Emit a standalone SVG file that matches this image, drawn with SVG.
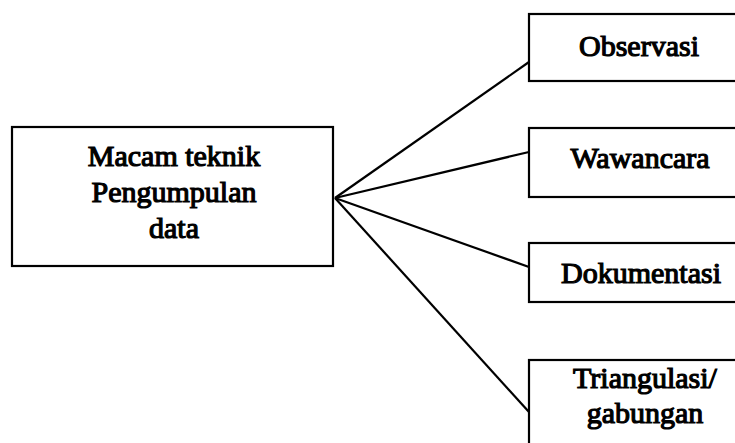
<svg xmlns="http://www.w3.org/2000/svg" width="735" height="443" viewBox="0 0 735 443">
<style>
.box{fill:#fff;stroke:#000;stroke-width:2.2}
.t{font-family:"Liberation Serif","Times New Roman",serif;font-size:30px;fill:#000;stroke:#000;stroke-width:1.2;text-anchor:middle}
.c{stroke:#000;stroke-width:2.2;fill:none}
</style>
<rect width="735" height="443" fill="#fff"/>
<g id="connectors">
<line class="c" x1="335" y1="198" x2="529" y2="62"/>
<line class="c" x1="335" y1="198" x2="529" y2="152"/>
<line class="c" x1="335" y1="198" x2="529" y2="267"/>
<line class="c" x1="335" y1="198" x2="529" y2="412"/>
</g>
<g id="main">
<rect class="box" x="12" y="127" width="321" height="139"/>
<text class="t" x="174" y="166">Macam teknik</text>
<text class="t" x="174" y="202">Pengumpulan</text>
<text class="t" x="174" y="238">data</text>
</g>
<g id="observasi">
<rect class="box" x="529" y="14" width="230" height="67"/>
<text class="t" x="639" y="56">Observasi</text>
</g>
<g id="wawancara">
<rect class="box" x="529" y="128" width="230" height="69"/>
<text class="t" x="640" y="168">Wawancara</text>
</g>
<g id="dokumentasi">
<rect class="box" x="529" y="243" width="230" height="59"/>
<text class="t" x="641" y="283">Dokumentasi</text>
</g>
<g id="triangulasi">
<rect class="box" x="529" y="360" width="230" height="100"/>
<text class="t" x="645" y="388">Triangulasi/</text>
<text class="t" x="645" y="423">gabungan</text>
</g>
</svg>
